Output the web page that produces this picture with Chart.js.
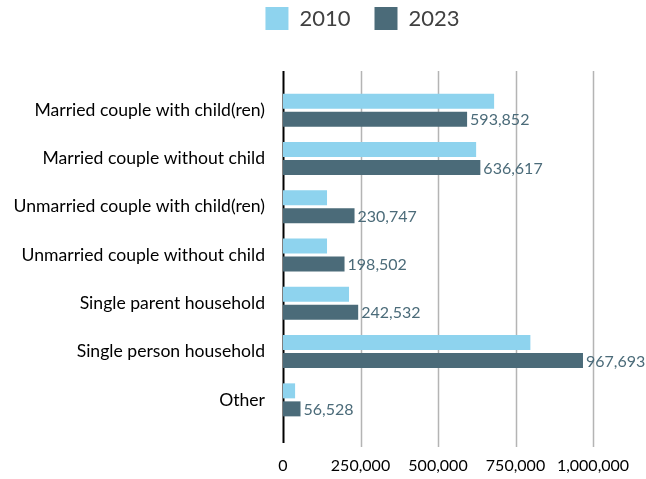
<!DOCTYPE html>
<html>
<head>
<meta charset="utf-8">
<script src="https://cdn.jsdelivr.net/npm/chart.js@4.4.1/dist/chart.umd.min.js"></script>
<style>
  html, body { margin: 0; padding: 0; background: #fff; }
  #wrap { width: 646px; height: 479px; }
</style>
</head>
<body>
<div id="wrap"><canvas id="household-chart"></canvas></div>
<script>
// ============================================
// DATA
// ============================================

const categories = [
  'Married couple with child(ren)',
  'Married couple without child',
  'Unmarried couple with child(ren)',
  'Unmarried couple without child',
  'Single parent household',
  'Single person household',
  'Other'
];

const values2010 = [681000, 623000, 142000, 142000, 213000, 798000, 39000];
const values2023 = [593852, 636617, 230747, 198502, 242532, 967693, 56528];

const xTicks = [0, 250000, 500000, 750000, 1000000];

const COLOR_2010 = '#8ed3ee';
const COLOR_2023 = '#4b6b79';
const FONT = 'Lato, "Open Sans", sans-serif';

// ============================================
// PLUGINS
// ============================================

// fixed legend band height, then nudge the legend into place
const legendPlace = {
  id: 'legendPlace',
  beforeInit(chart) {
    const fit = chart.legend.fit;
    chart.legend.fit = function () {
      fit.bind(chart.legend)();
      this.height = 86;
    };
  },
  afterLayout(chart) {
    chart.legend.left += 132;
    chart.legend.top -= 17;
  }
};

// vertical gridlines + zero line, a bit taller than the bars' area
const gridLines = {
  id: 'gridLines',
  beforeDatasetsDraw(chart) {
    const { ctx, chartArea, scales } = chart;
    const top = chartArea.top - 15;
    const bottom = chartArea.bottom + 23;
    ctx.save();
    xTicks.forEach(v => {
      const x = Math.round(scales.x.getPixelForValue(v)) + 0.5;
      ctx.beginPath();
      ctx.strokeStyle = v === 0 ? '#000000' : '#b4b4b4';
      ctx.lineWidth = v === 0 ? 2 : 1.5;
      ctx.moveTo(x, top);
      ctx.lineTo(x, v === 0 ? bottom - 4 : bottom);
      ctx.stroke();
    });
    ctx.restore();
  }
};

// value labels on the 2023 bars
const barLabels = {
  id: 'barLabels',
  afterDatasetsDraw(chart) {
    const { ctx } = chart;
    const meta = chart.getDatasetMeta(1);
    ctx.save();
    ctx.font = '16px ' + FONT;
    ctx.fillStyle = COLOR_2023;
    ctx.textAlign = 'left';
    ctx.textBaseline = 'middle';
    meta.data.forEach((bar, i) => {
      ctx.fillText(values2023[i].toLocaleString('en-US'), bar.x + 3, bar.y + 1);
    });
    ctx.restore();
  }
};

// ============================================
// CHART
// ============================================

new Chart(document.getElementById('household-chart'), {
  type: 'bar',
  data: {
    labels: categories,
    datasets: [
      {
        label: '2010',
        data: values2010,
        backgroundColor: COLOR_2010,
        categoryPercentage: 0.746,
        barPercentage: 0.833
      },
      {
        label: '2023',
        data: values2023,
        backgroundColor: COLOR_2023,
        categoryPercentage: 0.746,
        barPercentage: 0.833
      }
    ]
  },
  options: {
    indexAxis: 'y',
    responsive: true,
    maintainAspectRatio: false,
    animation: false,
    layout: {
      padding: { left: 0, right: 53, top: 0, bottom: 0 }
    },
    plugins: {
      legend: {
        position: 'top',
        labels: {
          boxWidth: 23,
          boxHeight: 23,
          padding: 24,
          color: '#404040',
          font: { family: FONT, size: 22 }
        }
      },
      tooltip: { enabled: false }
    },
    scales: {
      x: {
        min: 0,
        max: 1000000,
        border: { display: false },
        grid: { display: false, drawTicks: false },
        afterBuildTicks(scale) {
          scale.ticks = xTicks.map(v => ({ value: v }));
        },
        afterFit(scale) {
          scale.height = 55;
          scale.paddingLeft = 0;
          scale.paddingRight = 0;
        },
        ticks: {
          padding: 32,
          maxRotation: 0,
          minRotation: 0,
          autoSkip: false,
          color: '#000000',
          font: { family: FONT, size: 16 },
          callback: v => v.toLocaleString('en-US')
        }
      },
      y: {
        border: { display: false },
        grid: { display: false, drawTicks: false },
        afterFit(scale) {
          scale.width = 283;
        },
        ticks: {
          padding: 18,
          color: '#000000',
          font: { family: FONT, size: 17.6 }
        }
      }
    }
  },
  plugins: [legendPlace, gridLines, barLabels]
});
</script>
</body>
</html>
